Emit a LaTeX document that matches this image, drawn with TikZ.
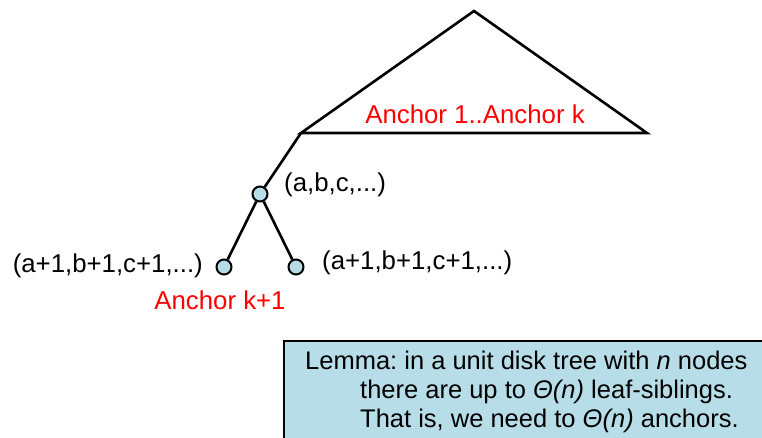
\documentclass[tikz,border=0pt]{standalone}
\usepackage{fontspec}
\setmainfont{Liberation Sans}
\usepackage{xcolor}
\usetikzlibrary{positioning}
\definecolor{nodecolor}{RGB}{183,222,232}
\definecolor{anchorcolor}{RGB}{255,0,0}
\frenchspacing

\begin{document}
\begin{tikzpicture}[
    x=1pt, y=-1pt,
    dot/.style={draw, circle, fill=nodecolor, minimum size=15pt, inner sep=0pt, line width=2pt},
    lbl/.style={font=\fontsize{25.8}{30}\selectfont, inner sep=0pt},
    red lbl/.style={lbl, text=anchorcolor},
    edge/.style={line width=2.6pt},
]
    \useasboundingbox (0,0) rectangle (762,438);

    % upper part of the tree
    \coordinate (top) at (474,11);
    \coordinate (tl) at (301,133);
    \coordinate (tr) at (647,133);
    \draw[edge, line join=miter] (tl) -- (top) -- (tr) -- cycle;
    \node[red lbl] (upper) at (475,114) {Anchor 1..Anchor k};

    % parent and its two leaves
    \node[dot] (p) at (260,194) {};
    \node[dot] (l1) at (224,267) {};
    \node[dot] (l2) at (296,267) {};
    \draw[edge] (tl) -- (p);
    \draw[edge] (p) -- (l1);
    \draw[edge] (p) -- (l2);

    \node[lbl, anchor=west] (plbl) at (284,185) {(a,b,c,...)};
    \node[lbl, anchor=east] (l1lbl) at (203,266) {(a+1,b+1,c+1,...)};
    \node[lbl, anchor=west] (l2lbl) at (322,263) {(a+1,b+1,c+1,...)};
    \node[red lbl] (newanchor) at (220,300) {Anchor k+1};

    % lemma
    \draw[line width=1.5pt, fill=nodecolor] (284,341) rectangle (770,445);
    \node[lbl, anchor=north west, align=left, font=\fontsize{25.5}{29}\selectfont] (lemma) at (305,351)
        {Lemma: in a unit disk tree with \textit{n} nodes\\
         \hspace*{55pt}there are up to \textit{Θ(n)} leaf-siblings.\\
         \hspace*{55pt}That is, we need to \textit{Θ(n)} anchors.};
\end{tikzpicture}
\end{document}
